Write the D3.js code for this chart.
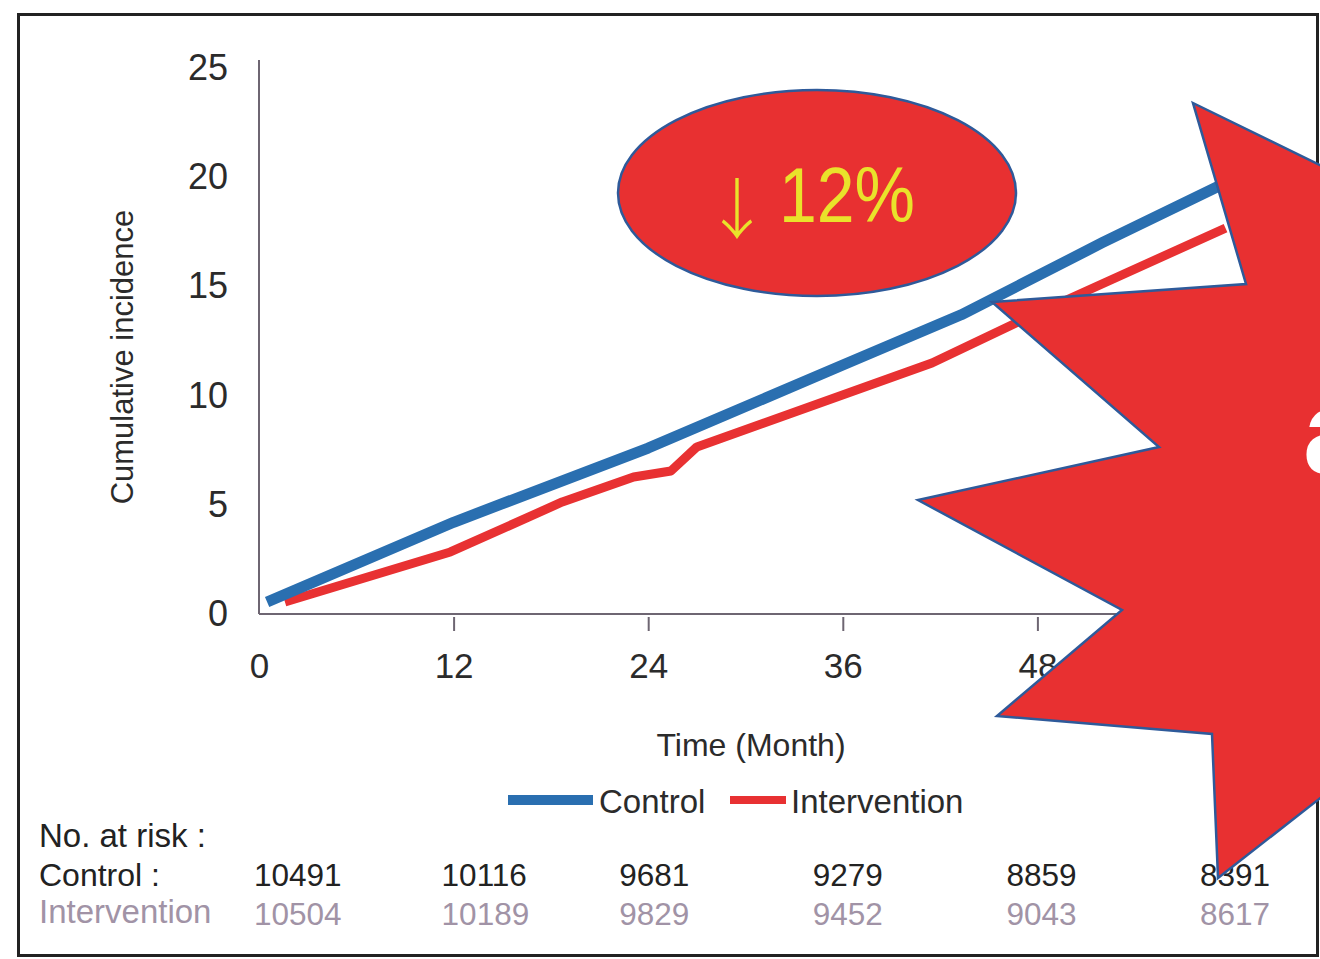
<!DOCTYPE html>
<html><head><meta charset="utf-8">
<script src="https://cdn.jsdelivr.net/npm/d3@7"></script>
<style>html,body{margin:0;padding:0;background:#fff}svg{display:block}</style>
</head><body>
<script>
// ---- data ----
const xTicks = [0, 12, 24, 36, 48, 60];
const yTicks = [0, 5, 10, 15, 20, 25];
const controlMonths = [0.5, 12, 24, 36, 43.3, 47, 52, 59.2];
const controlValues = [0.55, 4.2, 7.6, 11.4, 13.7, 15.1, 17.0, 19.6];
const interventionMonths = [1.6, 11.8, 18.7, 23.1, 25.4, 27.0, 41.5, 46.8, 59.6];
const interventionValues = [0.55, 2.84, 5.13, 6.27, 6.55, 7.65, 11.49, 13.37, 17.67];
const riskMonths = [0, 12, 24, 36, 48, 60];
const riskControl = ["10491", "10116", "9681", "9279", "8859", "8391"];
const riskIntervention = ["10504", "10189", "9829", "9452", "9043", "8617"];
const seriesNames = ["Control", "Intervention"];
const badgeText = "12%";
// layout nudges for the risk-table columns (left edge relative to tick)
const riskDx = [-5, -12, -29, -30, -31, -32];

const W = 1320, H = 959;
const svg = d3.select("body").append("svg").attr("width", W).attr("height", H);
svg.append("rect").attr("width", W).attr("height", H).attr("fill", "#fff");

const x = d3.scaleLinear().domain([0, 60]).range([259, 1232]);
const y = d3.scaleLinear().domain([0, 25]).range([614, 68]);
const FONT = "'Liberation Sans', Arial, Helvetica, sans-serif";
const axisCol = "#6e6672";

// frame
svg.append("rect").attr("x", 18.5).attr("y", 14.5).attr("width", 1299).attr("height", 941)
  .attr("fill", "none").attr("stroke", "#222").attr("stroke-width", 3);

// y axis
const yAxis = svg.append("g").attr("transform", `translate(${x(0)},0)`)
  .call(d3.axisLeft(y).tickValues(yTicks).tickSize(0).tickPadding(31));
yAxis.select(".domain").attr("stroke", axisCol).attr("stroke-width", 2).attr("d", `M0,${60}V${y(0)}`);
yAxis.selectAll("text").attr("font-family", FONT).attr("font-size", 36).attr("fill", "#2b2b2b");

// x axis
const xAxis = svg.append("g").attr("transform", `translate(0,${y(0)})`)
  .call(d3.axisBottom(x).tickValues(xTicks).tickSize(17).tickPadding(22));
xAxis.select(".domain").attr("stroke", axisCol).attr("stroke-width", 2).attr("d", `M${x(0)},0H${x(60)}`);
xAxis.selectAll(".tick line").attr("stroke", axisCol).attr("stroke-width", 2)
  .attr("y1", 3).attr("opacity", d => d === 0 ? 0 : 1);
xAxis.selectAll("text").attr("font-family", FONT).attr("font-size", 35).attr("fill", "#2b2b2b");

// axis titles
svg.append("text").attr("transform", "translate(133,357) rotate(-90)")
  .attr("text-anchor", "middle").attr("font-family", FONT).attr("font-size", 31)
  .attr("fill", "#2b2b2b").text("Cumulative incidence");
svg.append("text").attr("x", 751).attr("y", 756).attr("text-anchor", "middle")
  .attr("font-family", FONT).attr("font-size", 32).attr("fill", "#2b2b2b").text("Time (Month)");

// lines
const line = d3.line().x(d => x(d[0])).y(d => y(d[1]));
const ctrl = controlMonths.map((m, i) => [m, controlValues[i]]);
const intv = interventionMonths.map((m, i) => [m, interventionValues[i]]);
svg.append("path").attr("d", line(intv)).attr("fill", "none").attr("stroke", "#e83132")
  .attr("stroke-width", 9).attr("stroke-linejoin", "round");
svg.append("path").attr("d", line(ctrl)).attr("fill", "none").attr("stroke", "#2a6fb0")
  .attr("stroke-width", 11).attr("stroke-linejoin", "round");

// legend
svg.append("line").attr("x1", 508).attr("x2", 593).attr("y1", 800).attr("y2", 800)
  .attr("stroke", "#2a6fb0").attr("stroke-width", 10);
svg.append("text").attr("x", 599).attr("y", 813).attr("font-family", FONT).attr("font-size", 33)
  .attr("fill", "#2b2b2b").text(seriesNames[0]);
svg.append("line").attr("x1", 730).attr("x2", 786).attr("y1", 800).attr("y2", 800)
  .attr("stroke", "#e83132").attr("stroke-width", 8);
svg.append("text").attr("x", 791).attr("y", 813).attr("font-family", FONT).attr("font-size", 33)
  .attr("fill", "#2b2b2b").text(seriesNames[1]);

// risk table
svg.append("text").attr("x", 39).attr("y", 847).attr("font-family", FONT).attr("font-size", 33)
  .attr("fill", "#222").text("No. at risk :");
svg.append("text").attr("x", 39).attr("y", 886).attr("font-family", FONT).attr("font-size", 32)
  .attr("fill", "#222").text(seriesNames[0] + " :");
svg.append("text").attr("x", 39).attr("y", 923).attr("font-family", FONT).attr("font-size", 33)
  .attr("fill", "#a193a6").text(seriesNames[1]);
svg.selectAll(".rc").data(riskMonths).enter().append("text")
  .attr("x", (d, i) => x(d) + riskDx[i]).attr("y", 886)
  .attr("font-family", FONT).attr("font-size", 31.5).attr("fill", "#222")
  .text((d, i) => riskControl[i]);
svg.selectAll(".ri").data(riskMonths).enter().append("text")
  .attr("x", (d, i) => x(d) + riskDx[i]).attr("y", 925)
  .attr("font-family", FONT).attr("font-size", 31.5).attr("fill", "#a193a6")
  .text((d, i) => riskIntervention[i]);

// badge ellipse
svg.append("ellipse").attr("cx", 817).attr("cy", 193).attr("rx", 199).attr("ry", 103)
  .attr("fill", "#e83031").attr("stroke", "#2e5a9a").attr("stroke-width", 2.5);
svg.append("text").attr("x", 737).attr("y", 233).attr("text-anchor", "middle")
  .attr("font-family", "'Noto Sans CJK JP', 'DejaVu Sans', sans-serif").attr("font-weight", 300)
  .attr("font-size", 66).attr("fill", "#e9e22b").text("↓");
svg.append("text").attr("x", 779).attr("y", 222)
  .attr("font-family", FONT).attr("font-size", 78).attr("fill", "#e9e22b")
  .attr("textLength", 136).attr("lengthAdjust", "spacingAndGlyphs").text(badgeText);

// burst annotation (decorative shape)
const burst = [[1193,103],[1420,214],[1420,720],[1218,878],[1212,734],[997,716],[1122,610],
               [918,500],[1159,447],[992,302],[1246,284]];
svg.append("path").attr("d", d3.line()(burst) + "Z")
  .attr("fill", "#e83031").attr("stroke", "#2e5a9a").attr("stroke-width", 2.5).attr("stroke-linejoin", "miter");
svg.append("text").attr("x", 1303).attr("y", 473).attr("font-family", FONT).attr("font-weight", "bold")
  .attr("font-size", 120).attr("fill", "#fff").text("a");
</script>
</body></html>
